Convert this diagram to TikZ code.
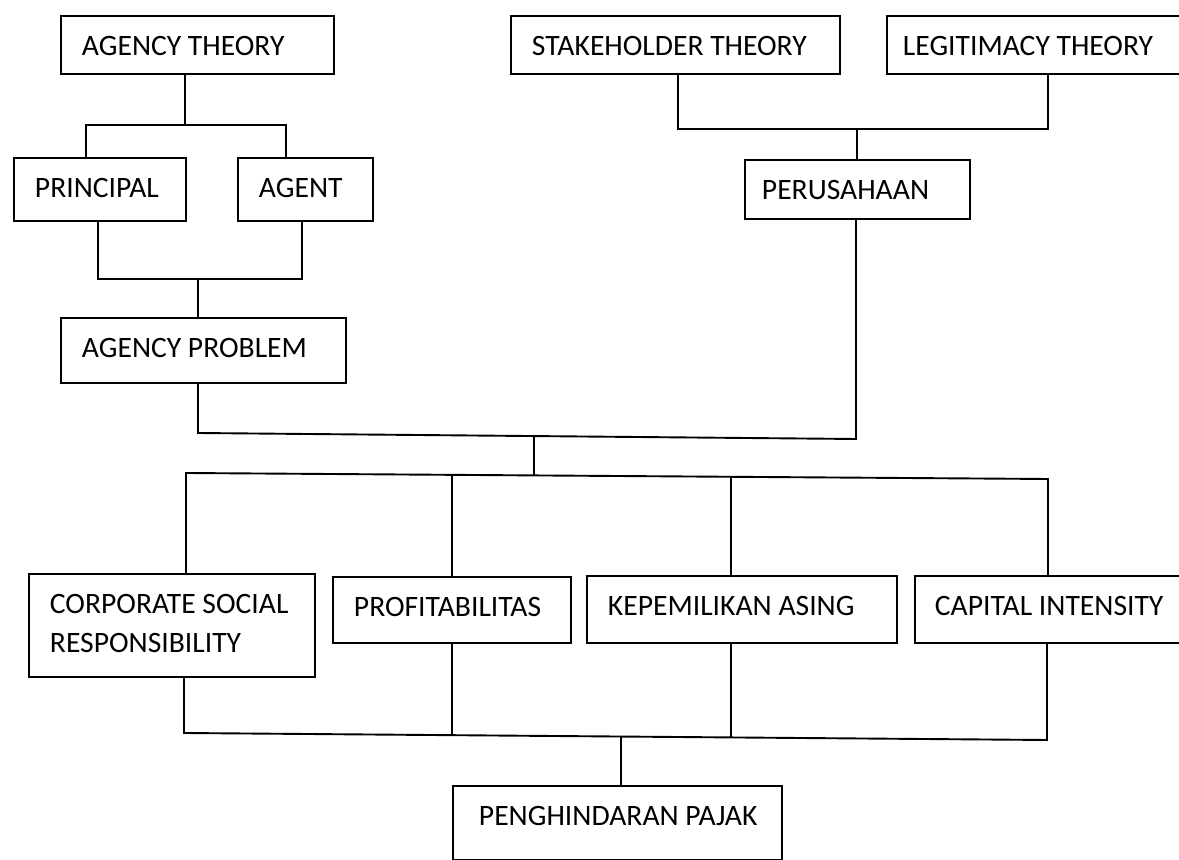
\documentclass[tikz,border=0pt]{standalone}
\usepackage{fontspec}
\setmainfont{Carlito}

\begin{document}
\begin{tikzpicture}[
    x=0.5pt, y=-0.5pt,
    line width=0.95pt,
    box/.style={draw, anchor=north west, inner xsep=10.5pt, inner ysep=0pt, align=flush left, text height=20pt, font=\fontsize{14.8}{19.5}\selectfont}
  ]
  \useasboundingbox (0,0) rectangle (1179,860);
  \clip (0,0) rectangle (1179,860);
  \node[box, text width=115.5pt, text depth=9pt] (agency) at (60,15) {AGENCY THEORY};
  \node[box, text width=143.5pt, text depth=9pt] (stakeholder) at (510,15) {STAKEHOLDER THEORY};
  \node[box, inner xsep=8pt, text width=141pt, text depth=9pt] (legitimacy) at (886,15) {LEGITIMACY THEORY};
  \node[box, text width=65pt, text depth=11.5pt] (principal) at (13,157) {PRINCIPAL};
  \node[box, text width=46.5pt, text depth=11.5pt] (agent) at (237,157) {AGENT};
  \node[box, inner xsep=8.5pt, text width=95.5pt, text depth=9.5pt] (perusahaan) at (744,159) {PERUSAHAAN};
  \node[box, text width=121.5pt, text depth=12.5pt] (problem) at (60,317) {AGENCY PROBLEM};
  \node[box, text width=122pt, text depth=31.5pt] (csr) at (28,573) {CORPORATE SOCIAL\\RESPONSIBILITY};
  \node[box, text width=98pt, text depth=13pt] (profit) at (332,576) {PROFITABILITAS};
  \node[box, text width=134pt, text depth=13.5pt] (kepemilikan) at (586,575) {KEPEMILIKAN ASING};
  \node[box, inner xsep=10pt, text width=123pt, text depth=13.5pt] (capital) at (914,575) {CAPITAL INTENSITY};
  \node[box, inner xsep=13pt, text width=138.5pt, text depth=17pt] (pajak) at (452,785) {\mbox{PENGHINDARAN PAJAK}};

  \coordinate (aSplit) at (185,125);
  \coordinate (aL) at (86,125);
  \coordinate (aR) at (286,125);
  \draw (agency.south -| aSplit) -- (aSplit);
  \draw (principal.north -| aL) -- (aL) -- (aR) -- (agent.north -| aR);

  \coordinate (pL) at (98,279);
  \coordinate (pR) at (302,279);
  \coordinate (pMid) at (198,279);
  \draw (principal.south -| pL) -- (pL) -- (pR) -- (agent.south -| pR);
  \draw (pMid) -- (problem.north -| pMid);

  \coordinate (sL) at (678,129);
  \coordinate (sR) at (1048,129);
  \coordinate (sMid) at (857,129);
  \draw (stakeholder.south -| sL) -- (sL) -- (sR) -- (legitimacy.south -| sR);
  \draw (sMid) -- (perusahaan.north -| sMid);

  \coordinate (mL) at (198,433);
  \coordinate (mR) at (856,439);
  \draw (problem.south -| mL) -- (mL) -- (mR) -- (perusahaan.south -| mR);
  \coordinate (hubTop) at (534,436);
  \coordinate (hubBot) at (534,476);
  \draw (hubTop) -- (hubBot);

  \coordinate (tL) at (186,473);
  \coordinate (tR) at (1048,479);
  \coordinate (tP) at (452,475);
  \coordinate (tK) at (731,477);
  \draw (csr.north -| tL) -- (tL) -- (tR) -- (capital.north -| tR);
  \draw (tP) -- (profit.north -| tP);
  \draw (tK) -- (kepemilikan.north -| tK);

  \coordinate (bL) at (184,733);
  \coordinate (bR) at (1047,740);
  \coordinate (bP) at (452,735);
  \coordinate (bK) at (731,737);
  \coordinate (bJ) at (621,736);
  \draw (csr.south -| bL) -- (bL) -- (bR) -- (capital.south -| bR);
  \draw (profit.south -| bP) -- (bP);
  \draw (kepemilikan.south -| bK) -- (bK);
  \draw (bJ) -- (pajak.north -| bJ);
\end{tikzpicture}
\end{document}
